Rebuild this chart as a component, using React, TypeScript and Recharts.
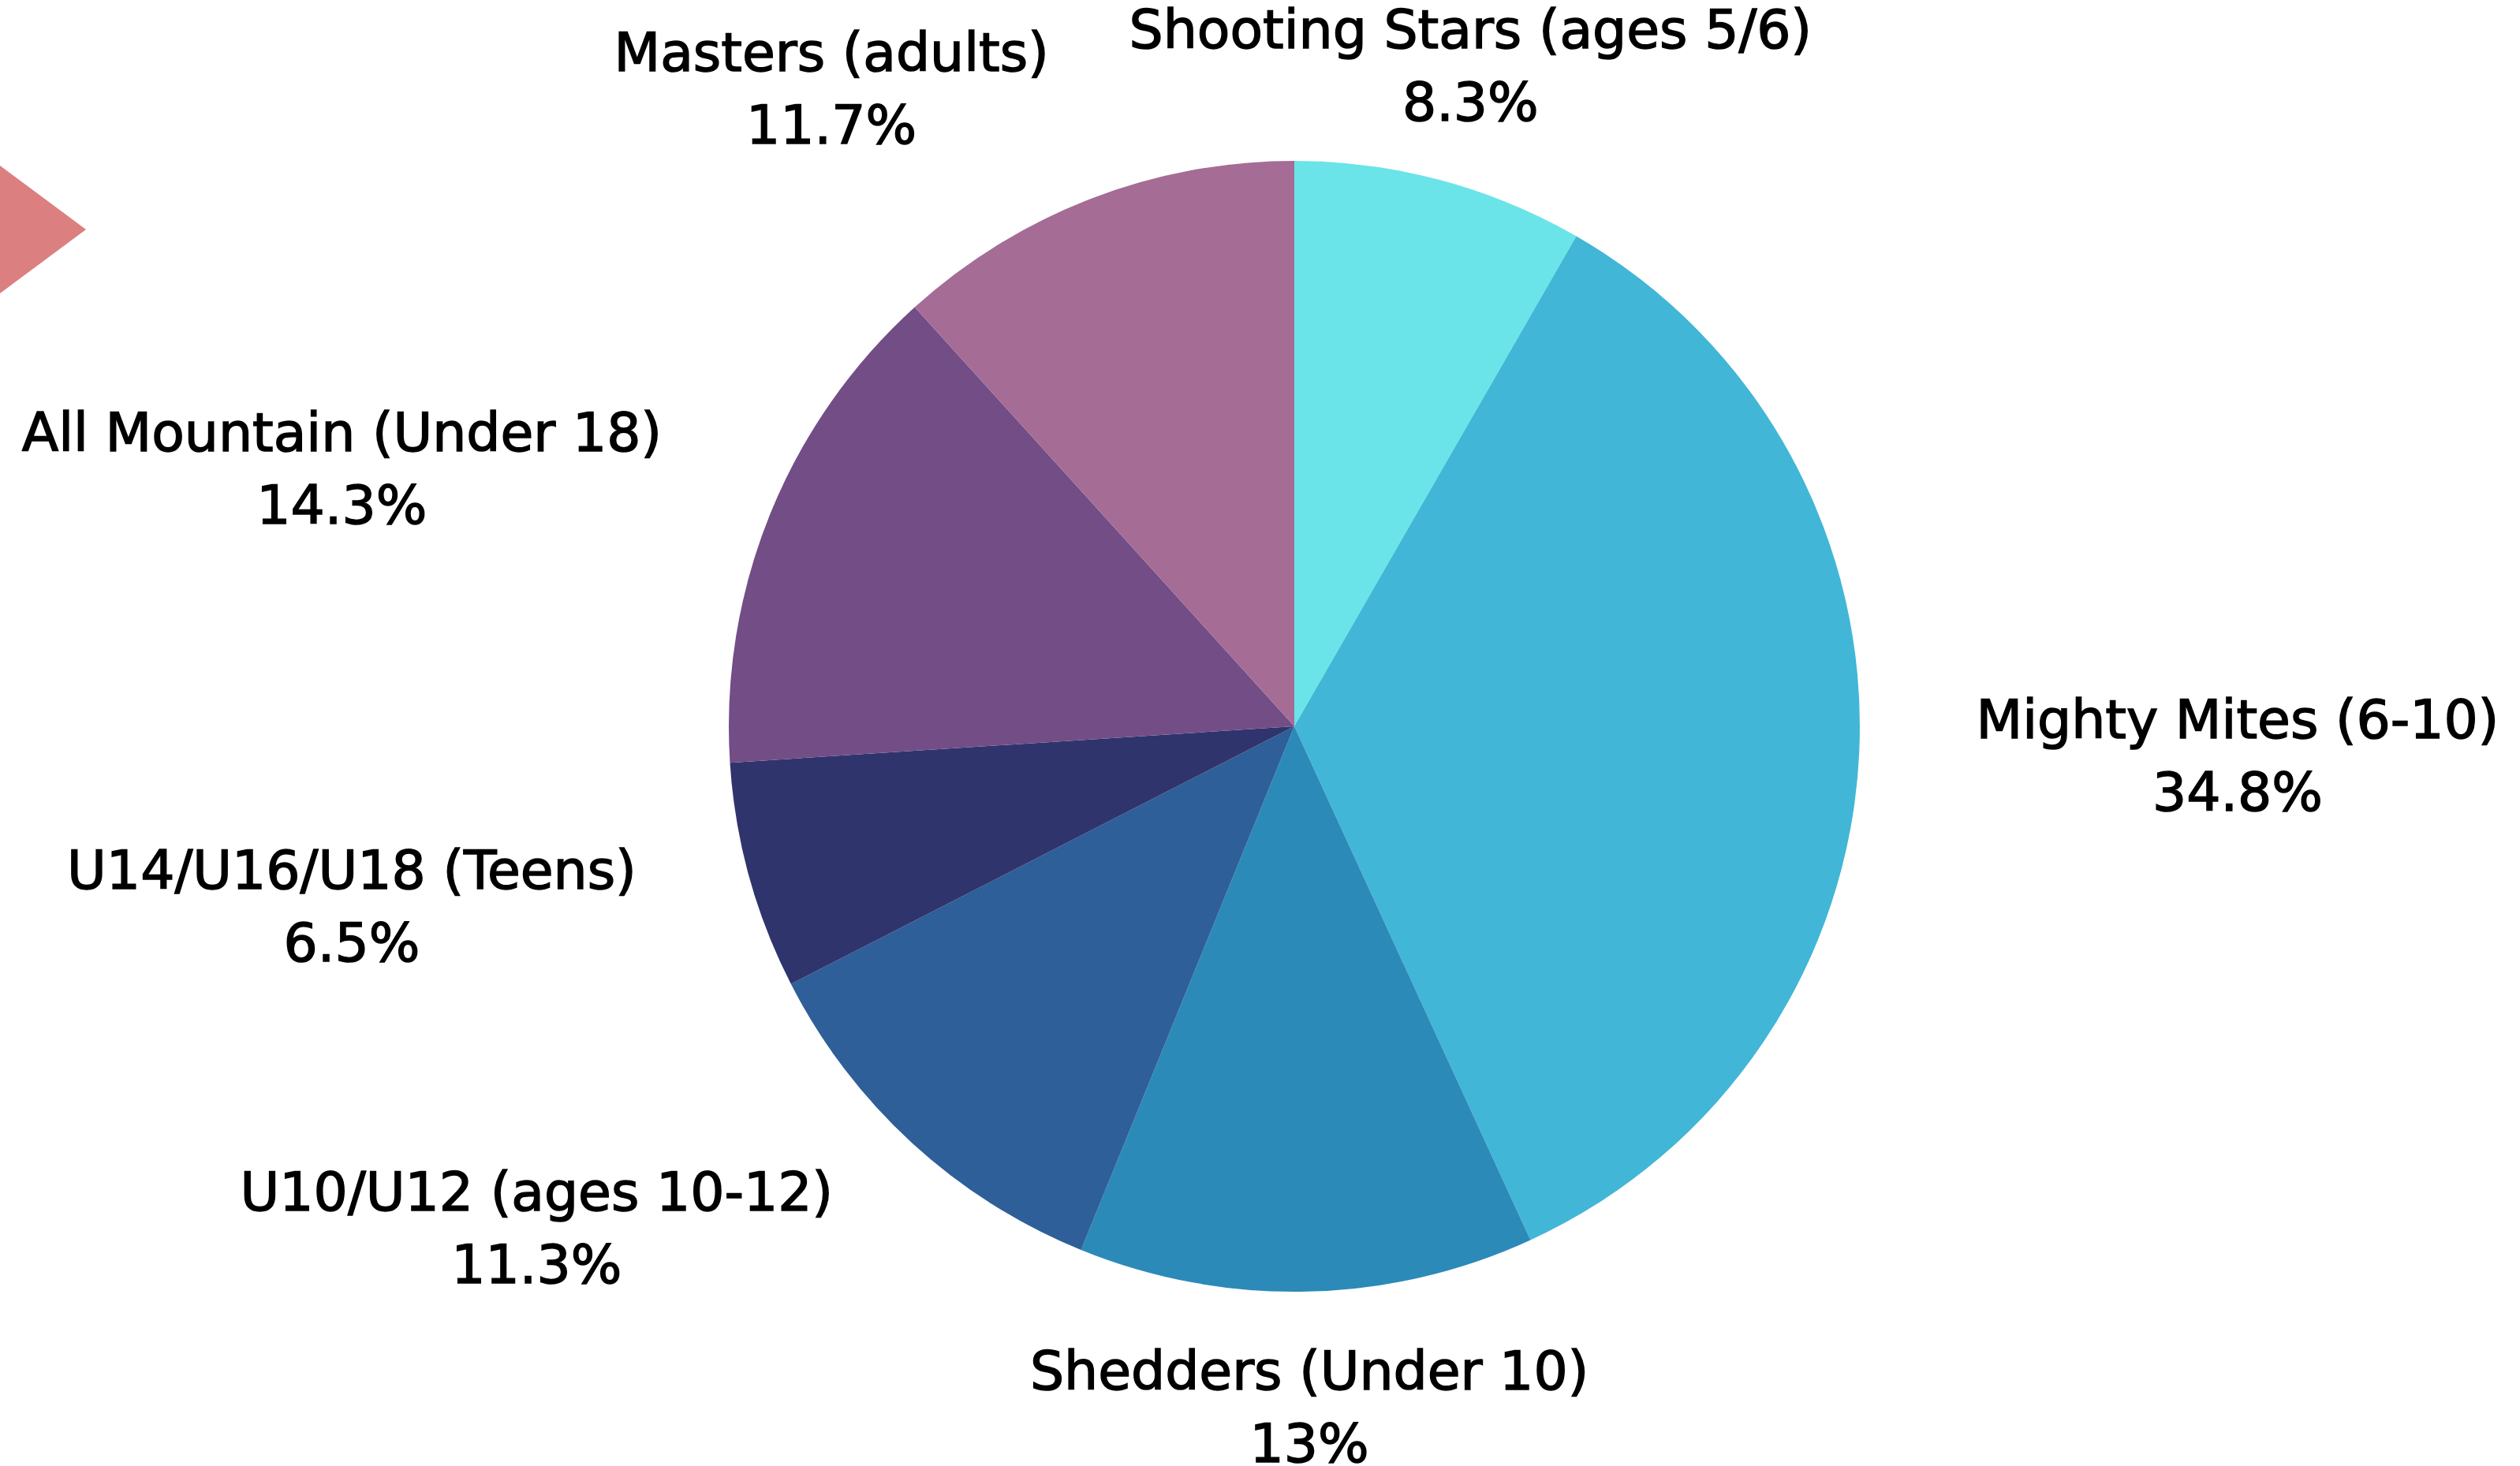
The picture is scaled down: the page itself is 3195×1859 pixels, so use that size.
import { PieChart, Pie, Cell } from "recharts";

const programs = [
  "Shooting Stars (ages 5/6)",
  "Mighty Mites (6-10)",
  "Shedders (Under 10)",
  "U10/U12 (ages 10-12)",
  "U14/U16/U18 (Teens)",
  "All Mountain (Under 18)",
  "Masters (adults)",
];
const shares = [8.3, 34.8, 13, 11.3, 6.5, 14.3, 11.7];
const colors = ["#6ae4e8", "#42b6d6", "#2c8ab8", "#2e5f98", "#30346c", "#724d86", "#a56c96"];

const data = programs.map((name, i) => ({ name, value: shares[i] }));

const RAD = Math.PI / 180;
const FONT = "'DejaVu Sans', sans-serif";
const FONT_SIZE = 68;

let ctx: CanvasRenderingContext2D | null = null;
const measure = (s: string) => {
  if (!ctx) ctx = document.createElement("canvas").getContext("2d");
  if (!ctx) return s.length * FONT_SIZE * 0.55;
  ctx.font = `${FONT_SIZE}px ${FONT}`;
  return ctx.measureText(s).width;
};

const renderLabel = (props: any) => {
  const { cx, cy, midAngle, outerRadius, name, value } = props;
  const d = outerRadius * 1.207;
  const cos = Math.cos(-midAngle * RAD);
  const x = cx + d * cos;
  const y = cy + d * Math.sin(-midAngle * RAD);
  const pct = `${value}%`;
  const w = Math.max(measure(name), measure(pct));
  // label block sits outside the slice, lines centred in the block
  const bx = Math.abs(cos) < 0.3 ? x : cos > 0 ? x + w / 2 : x - w / 2;
  return (
    <text
      x={bx}
      y={y}
      textAnchor="middle"
      fontFamily={FONT}
      fontSize={FONT_SIZE}
      fill="#000"
      stroke="#000"
      strokeWidth={1.5}
    >
      <tspan x={bx} y={y - 24}>{name}</tspan>
      <tspan x={bx} y={y + 68}>{pct}</tspan>
    </text>
  );
};

export default function App() {
  return (
    <div style={{ position: "fixed", left: 0, top: 0, width: 3195, height: 1859, background: "#fff" }}>
      <svg width={110} height={380} style={{ position: "absolute", left: 0, top: 0 }}>
        <polygon points="0,210 109,291 0,372" fill="#db7f80" />
      </svg>
      <PieChart width={3195} height={1859} margin={{ top: 0, right: 0, bottom: 0, left: 0 }}>
        <Pie
          data={data}
          dataKey="value"
          nameKey="name"
          cx={1641}
          cy={921}
          outerRadius={717}
          startAngle={90}
          endAngle={-270}
          stroke="none"
          labelLine={false}
          label={renderLabel}
          isAnimationActive={false}
        >
          {data.map((entry, index) => (
            <Cell key={`cell-${index}`} fill={colors[index]} />
          ))}
        </Pie>
      </PieChart>
    </div>
  );
}
